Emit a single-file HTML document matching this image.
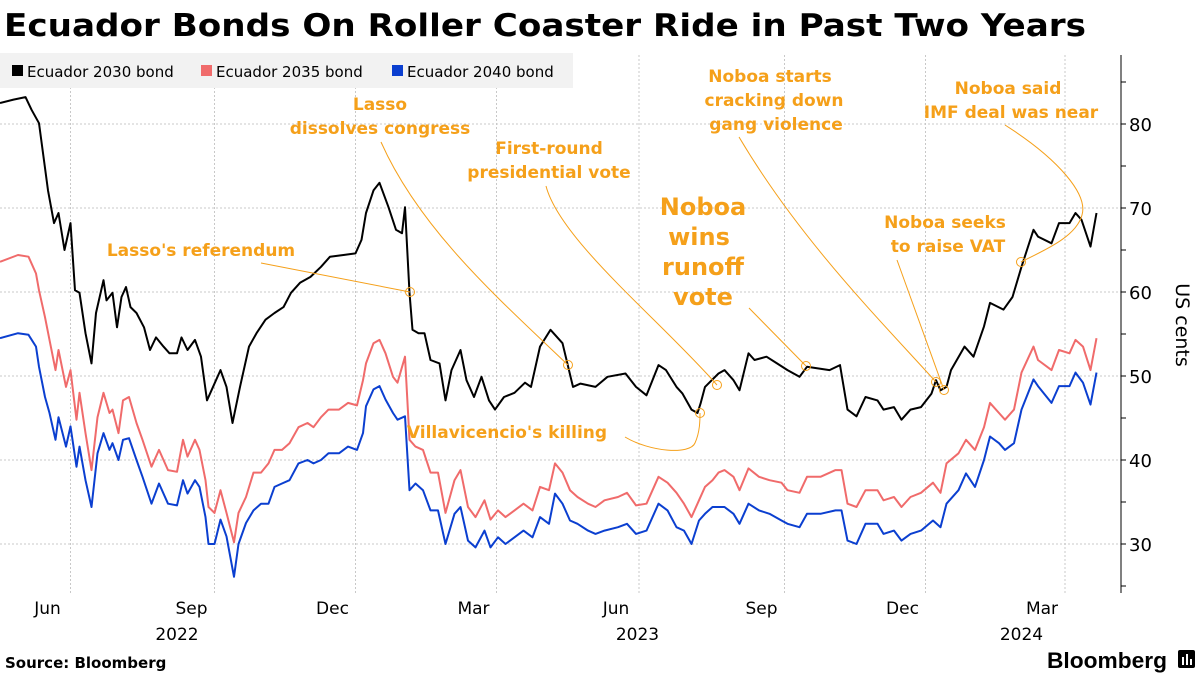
<!DOCTYPE html>
<html><head><meta charset="utf-8"><style>
html,body{margin:0;padding:0;background:#fff;}
svg{display:block;font-family:"DejaVu Sans","Liberation Sans",sans-serif;}
</style></head><body>
<svg id="chart" width="1200" height="675" viewBox="0 0 1200 675" xmlns="http://www.w3.org/2000/svg">
<text x="4" y="36" font-size="31" font-weight="bold" textLength="1082" lengthAdjust="spacingAndGlyphs">Ecuador Bonds On Roller Coaster Ride in Past Two Years</text>
<g id="grid"></g>
<g id="series"></g>
<g id="axes"></g>
<g>
<rect x="0" y="53" width="573" height="35" fill="#f2f2f2"/>
<rect x="12" y="65" width="11" height="11" fill="#000"/>
<text x="27" y="77" font-size="15">Ecuador 2030 bond</text>
<rect x="201" y="65" width="11" height="11" fill="#f06b6b"/>
<text x="216" y="77" font-size="15">Ecuador 2035 bond</text>
<rect x="392" y="65" width="11" height="11" fill="#0b3fd0"/>
<text x="407" y="77" font-size="15">Ecuador 2040 bond</text>
</g>
<g fill="none" stroke="#f5a01a" stroke-width="1">
<path d="M261,263 L410,292"/>
<path d="M381,142 C420,230 500,300 568,365"/>
<path d="M546,186 C560,240 660,320 717,385"/>
<path d="M749,308 L806,366"/>
<path d="M625,437 C650,452 690,455 695,443 C700,432 700,420 700,413"/>
<path d="M739,137 C800,240 880,320 936,382"/>
<path d="M897,260 L944,390"/>
<path d="M1005,125 C1060,160 1088,195 1082,215 C1076,238 1040,252 1021,262"/>
<circle cx="410" cy="292" r="4.5"/>
<circle cx="568" cy="365" r="4.5"/>
<circle cx="717" cy="385" r="4.5"/>
<circle cx="806" cy="366" r="4.5"/>
<circle cx="700" cy="413" r="4.5"/>
<circle cx="936" cy="382" r="4.5"/>
<circle cx="944" cy="390" r="4.5"/>
<circle cx="1021" cy="262" r="4.5"/>
</g>
<g fill="#f5a01a" font-weight="bold" font-size="17" text-anchor="middle">
<text x="201" y="256">Lasso's referendum</text>
<text x="380" y="110">Lasso</text>
<text x="380" y="134">dissolves congress</text>
<text x="549" y="154">First-round</text>
<text x="549" y="178">presidential vote</text>
<text x="507" y="438">Villavicencio's killing</text>
<text x="770" y="82">Noboa starts</text>
<text x="774" y="106">cracking down</text>
<text x="776" y="130">gang violence</text>
<text x="945" y="228">Noboa seeks</text>
<text x="948" y="252">to raise VAT</text>
<text x="1008" y="94">Noboa said</text>
<text x="1011" y="118">IMF deal was near</text>
<g font-size="24">
<text x="703" y="215">Noboa</text>
<text x="699" y="245">wins</text>
<text x="703" y="275">runoff</text>
<text x="703" y="305">vote</text>
</g>
</g>
<text transform="translate(1176,325) rotate(90)" text-anchor="middle" font-size="19">US cents</text>
<text x="5" y="668" font-size="15" font-weight="bold">Source: Bloomberg</text>
<text x="1047" y="668" font-size="22" font-weight="bold" font-family="Liberation Sans, sans-serif" textLength="120" lengthAdjust="spacingAndGlyphs">Bloomberg</text>
<g>
<rect x="1178" y="650" width="17" height="18" rx="2" fill="#000"/>
<rect x="1182" y="657" width="2" height="8" fill="#fff"/><rect x="1186" y="654" width="2" height="11" fill="#fff"/><rect x="1190" y="659" width="2" height="6" fill="#fff"/>
</g>
</svg>
<script>
const dates2030 = [0,9,17,21,26,29,32,36,39,43,47,50,53,57,61,64,69,71,75,78,81,84,87,91,96,100,104,109,113,118,121,125,130,134,138,141,147,151,155,160,166,171,177,183,189,194,200,207,214,220,229,237,241,244,249,253,259,264,268,270,273,275,279,283,287,293,297,301,307,311,316,321,326,330,336,343,350,354,
360,367,375,382,387,397,405,417,424,431,439,444,451,455,461,465,467,470,479,483,489,493,499,503,511,518,525,533,538,553,560,565,571,577,585,589,596,601,607,614,621,624,627,631,634,643,649,656,660,669,675,681,689,692,701,706,713,717,721,727,731];
const bond2030 = [82.5,82.9,83.2,81.7,80.1,76.1,72.1,68.2,69.4,65,68.2,60.2,59.9,55.1,51.5,57.5,61.4,59,59.9,55.8,59.4,60.6,58.2,57.5,55.8,53.1,54.6,53.5,52.7,52.7,54.6,53.1,54.3,52.3,47.1,48.3,50.7,48.7,44.4,48.7,53.5,55.1,56.7,57.5,58.2,59.9,61.1,61.8,63,64.2,64.4,64.6,66.2,69.4,72.1,73,70.1,67.4,67,70.1,59.9,55.5,55.1,55.1,51.9,51.5,47.1,50.7,53.1,49.5,47.5,49.9,47.1,46,47.5,48,49.2,48.7,
53.5,55.5,53.9,48.7,49.1,48.7,49.9,50.3,48.7,47.7,51.3,50.7,48.7,47.9,46,45.6,46.7,48.7,50.3,50.7,49.5,48.3,52.7,51.9,52.3,51.5,50.7,49.9,51.1,50.7,51.3,46,45.2,47.5,47.1,46,46.3,44.8,46,46.3,47.9,49.5,48.3,48.7,50.7,53.5,52.3,55.9,58.7,57.9,59.4,63,67.4,66.6,65.8,68.2,68.2,69.4,68.6,65.4,69.4];
const datesOther = [0,12,19,24,26,30,33,37,39,44,47,51,53,57,61,65,69,73,75,79,82,86,91,95,101,106,112,118,122,125,130,133,137,139,143,147,151,156,159,164,169,174,179,183,188,193,199,205,209,214,219,226,232,238,242,244,249,253,257,262,265,270,273,277,282,287,292,297,303,307,312,317,323,327,332,337,343,349,355,
360,366,370,375,380,385,392,397,403,412,418,424,431,439,445,451,456,461,466,470,475,479,483,489,493,499,506,513,521,525,533,538,547,557,561,565,571,577,585,589,596,601,607,614,622,627,631,639,644,650,656,660,666,670,676,681,689,692,701,706,713,717,722,727,731];
const bond2035 = [63.6,64.4,64.2,62.2,60.2,57,54.3,50.7,53.1,48.7,50.7,44.8,48,43.2,38.8,45.1,48,45.6,46,43.2,47.1,47.5,44.4,42.4,39.2,41.2,38.8,38.6,42.4,40.4,42.4,41.2,37.6,34.4,33.7,36.4,33.7,30.2,33.7,35.6,38.5,38.5,39.6,41.2,41.2,42,43.9,44.4,43.9,45.1,46,46,46.8,46.5,49.5,51.5,53.9,54.3,52.7,49.9,49.2,52.3,42.4,41.6,41.2,38.5,38.5,33.7,37.6,38.8,34.4,33.2,35.2,32.9,34,33.2,34,34.8,34,
36.8,36.4,39.6,38.5,36.4,35.6,34.8,34.4,35.2,35.6,36.1,34.6,34.8,38,37.3,36.1,34.8,33.2,35.2,36.8,37.6,38.5,38.8,38,36.4,39,38,37.6,37.3,36.4,36.1,38,38,38.8,38.8,34.8,34.4,36.4,36.4,35.2,35.6,34.4,35.6,36.1,37.3,36.1,39.6,40.8,42.4,41.2,43.9,46.8,45.6,44.8,46,50.4,53.5,51.9,50.7,53.1,52.7,54.3,53.5,50.7,54.5];
const bond2040 = [54.5,55.1,54.9,53.5,51.1,47.5,45.6,42.4,45.1,41.6,44,39.2,41.6,37.6,34.4,40.8,43.2,41.2,42,40,42.4,42.6,40,38,34.8,37.2,34.8,34.6,37.6,36,37.6,36.8,33.2,30,30,32.9,30.9,26.1,30,32.5,34,34.8,34.8,36.8,37.2,37.6,39.6,40,39.6,40,40.8,40.8,41.6,41.2,43.2,46.4,48.4,48.8,47.2,45.6,44.8,45.2,36.4,37.2,36.4,34,34,30,33.6,34.4,30.4,29.6,31.6,29.6,30.8,30,30.8,31.6,30.8,
33.2,32.4,36,34.8,32.8,32.4,31.6,31.2,31.6,32,32.4,31.2,31.6,34.8,34,32,31.6,30,32.8,33.6,34.4,34.4,34.4,33.6,32.4,34.8,34,33.6,32.8,32.4,32,33.6,33.6,34,34,30.4,30,32.4,32.4,31.2,31.6,30.4,31.2,31.6,32.8,32,34.8,36.4,38.4,36.8,40,42.8,42,41.2,42,46,49.6,48.8,46.8,48.8,48.8,50.4,49.2,46.6,50.4];
const monthTickDays = [47,143,237,331,426,523,617,710];
const monthLabels = ["Jun","Sep","Dec","Mar","Jun","Sep","Dec","Mar"];
const yearTickDays = [118,425,681];
const yearLabels = ["2022","2023","2024"];
const yTicks = [30,40,50,60,70,80];
const yMinorTicks = [25,35,45,55,65,75,85];

const PX_PER_DAY = 1.5, X0 = 0, Y_BASE = 544, PX_PER_UNIT = 8.4, PLOT_RIGHT = 1121, PLOT_TOP = 55, PLOT_BOTTOM = 593;
function xScale(d){ return X0 + d*PX_PER_DAY; }
function yScale(v){ return Y_BASE - (v-30)*PX_PER_UNIT; }
const NS = "http://www.w3.org/2000/svg";
function mk(tag, parent){ const e=document.createElementNS(NS,tag); parent.appendChild(e); return e; }
const grid=document.getElementById('grid'), series=document.getElementById('series'), axes=document.getElementById('axes');

yTicks.forEach((v,i)=>{
  const l=mk('line',grid);
  
  
  l.setAttribute('x1',0); l.setAttribute('x2',PLOT_RIGHT); l.setAttribute('y1',yScale(v)); l.setAttribute('y2',yScale(v));
  l.setAttribute('stroke','#c8c8c8'); l.setAttribute('stroke-dasharray','2,2');
  const t=mk('text',axes);
  
  
  t.setAttribute('x',1129); t.setAttribute('y',yScale(v)+7); t.setAttribute('font-size','18'); t.textContent=String(v);
});
yTicks.concat(yMinorTicks).forEach(v=>{
  const l=mk('line',axes);
  
  
  l.setAttribute('x1',PLOT_RIGHT); l.setAttribute('x2',PLOT_RIGHT+5); l.setAttribute('y1',yScale(v)); l.setAttribute('y2',yScale(v));
  l.setAttribute('stroke','#000');
});
monthTickDays.forEach((d,i)=>{
  const l=mk('line',grid);
  
  
  l.setAttribute('x1',xScale(d)); l.setAttribute('x2',xScale(d)); l.setAttribute('y1',PLOT_TOP); l.setAttribute('y2',PLOT_BOTTOM);
  l.setAttribute('stroke','#c8c8c8'); l.setAttribute('stroke-dasharray','2,2');
  const t=mk('text',axes);
  
  
  t.setAttribute('x',xScale(d)-23); t.setAttribute('y',614); t.setAttribute('font-size','17'); t.setAttribute('text-anchor','middle');
  t.textContent=monthLabels[i];
});
yearTickDays.forEach((d,i)=>{
  const t=mk('text',axes);
  
  
  t.setAttribute('x',xScale(d)); t.setAttribute('y',640); t.setAttribute('font-size','17'); t.setAttribute('text-anchor','middle');
  t.textContent=yearLabels[i];
});
const ax=mk('line',axes);


ax.setAttribute('x1',PLOT_RIGHT); ax.setAttribute('x2',PLOT_RIGHT); ax.setAttribute('y1',PLOT_TOP); ax.setAttribute('y2',PLOT_BOTTOM); ax.setAttribute('stroke','#000');

function drawLine(dates, vals, color, name){
  const p=mk('path',series);
  
  
  p.setAttribute('d', vals.map((v,i)=>(i?'L':'M')+xScale(dates[i]).toFixed(1)+','+yScale(v).toFixed(1)).join(' '));
  p.setAttribute('fill','none'); p.setAttribute('stroke',color); p.setAttribute('stroke-width','2'); p.setAttribute('stroke-linejoin','round');
}
drawLine(datesOther, bond2040, '#0b3fd0', 'line-2040-bond');
drawLine(datesOther, bond2035, '#f06b6b', 'line-2035-bond');
drawLine(dates2030, bond2030, '#000000', 'line-2030-bond');
</script>
</body></html>
